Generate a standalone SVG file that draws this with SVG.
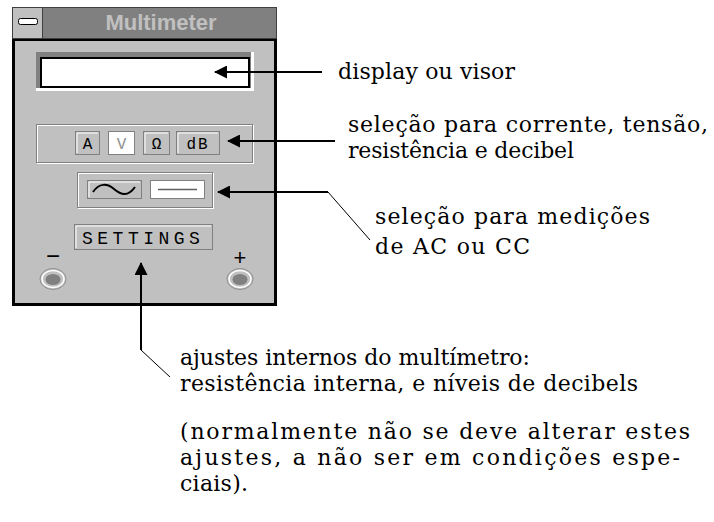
<svg xmlns="http://www.w3.org/2000/svg" width="714" height="522" viewBox="0 0 714 522">
<style>
.btn{fill:#c0c0c0;stroke:#808080;stroke-width:1}
.hl{fill:none;stroke:#fff;stroke-width:1}
.arrow{fill:none;stroke:#000;stroke-width:2;marker-end:url(#ah)}
.thin{fill:none;stroke:#000;stroke-width:1}
</style>
<defs>
<marker id="ah" markerUnits="userSpaceOnUse" markerWidth="13" markerHeight="13" refX="12" refY="6.5" orient="auto">
<path d="M0,0 L13,6.5 L0,13 z" fill="#000"/>
</marker>
</defs>
<rect width="714" height="522" fill="#fff"/>
<g id="window">
<rect x="13.5" y="39.5" width="262" height="265" fill="#c0c0c0" stroke="#000" stroke-width="3"/>
<rect x="12.5" y="7.5" width="264" height="31" fill="#808080" stroke="#404040"/>
<rect x="12.5" y="7.5" width="30" height="31" fill="#c0c0c0" stroke="#404040"/>
<rect x="18.5" y="18.5" width="19" height="6" rx="2" fill="#fff" stroke="#000"/>
<text x="161" y="30" style="font-family:'Liberation Sans',sans-serif;font-weight:bold;font-size:22px" fill="#c0c0c0" text-anchor="middle">Multimeter</text>
</g>
<g id="display">
<rect x="36" y="52" width="218" height="39" fill="#fff"/>
<rect x="36" y="52" width="215" height="36" fill="#808080"/>
<rect x="41" y="58" width="208" height="29" fill="#fff" stroke="#000" stroke-width="2"/>
</g>
<g id="mode-buttons">
<rect x="37.5" y="125.5" width="216" height="38" fill="none" stroke="#fff"/>
<rect x="36.5" y="124.5" width="216" height="38" fill="none" stroke="#808080"/>
<rect class="btn" x="75.5" y="131.5" width="24" height="23"/>
<path class="hl" d="M77,153 V133 H98"/>
<text x="87.5" y="149" style="font-family:'Liberation Mono',monospace;font-size:16px" text-anchor="middle">A</text>
<rect x="108.5" y="131.5" width="26" height="23" fill="#fff" stroke="#808080"/>
<text x="121.5" y="149" style="font-family:'Liberation Mono',monospace;font-size:16px" text-anchor="middle" fill="#909090">V</text>
<rect class="btn" x="143.5" y="131.5" width="26" height="23"/>
<path class="hl" d="M145,153 V133 H168"/>
<text x="156.5" y="149" style="font-family:'Liberation Mono',monospace;font-size:16px" text-anchor="middle">Ω</text>
<rect class="btn" x="176.5" y="131.5" width="43" height="23"/>
<path class="hl" d="M178,153 V133 H218"/>
<text x="198" y="149" style="font-family:'Liberation Mono',monospace;font-size:16px" text-anchor="middle" letter-spacing="2">dB</text>
</g>
<g id="acdc-buttons">
<rect x="78.5" y="173.5" width="135" height="35" fill="none" stroke="#fff"/>
<rect x="77.5" y="172.5" width="135" height="35" fill="none" stroke="#808080"/>
<rect class="btn" x="87.5" y="180.5" width="54" height="18"/>
<path class="hl" d="M89,197 V182 H140"/>
<path d="M93,192 C99,183 107,183 114,189 S128,197 135,187" fill="none" stroke="#000" stroke-width="2"/>
<rect x="150.5" y="180.5" width="54" height="18" fill="#fff" stroke="#808080"/>
<line x1="158" y1="189.5" x2="197" y2="189.5" stroke="#606060" stroke-width="1.5"/>
</g>
<g id="settings">
<rect class="btn" x="74.5" y="224.5" width="138" height="25"/>
<path class="hl" d="M76,248 V226 H211"/>
<text x="82" y="244" style="font-family:'Liberation Mono',monospace;font-size:18px" letter-spacing="4.5">SETTINGS</text>
</g>
<g id="terminals">
<text x="53" y="264" style="font-family:'Liberation Sans',sans-serif;font-size:24px" text-anchor="middle">−</text>
<text x="240" y="265" style="font-family:'Liberation Sans',sans-serif;font-size:22px" text-anchor="middle">+</text>
<ellipse cx="53" cy="279" rx="13" ry="10.5" fill="none" stroke="#909090"/>
<ellipse cx="53" cy="279" rx="11" ry="8.5" fill="none" stroke="#fff" stroke-width="1.5"/>
<ellipse cx="53" cy="279.5" rx="7.5" ry="5.5" fill="#808080"/>
<ellipse cx="240" cy="279" rx="13" ry="10.5" fill="none" stroke="#909090"/>
<ellipse cx="240" cy="279" rx="11" ry="8.5" fill="none" stroke="#fff" stroke-width="1.5"/>
<ellipse cx="240" cy="279.5" rx="7.5" ry="5.5" fill="#808080"/>
</g>
<g id="connectors">
<path class="arrow" d="M322,72 H215"/>
<path class="arrow" d="M335,141 H228"/>
<path class="arrow" d="M328,192 H218"/>
<path class="thin" d="M328,192 L370,240"/>
<path class="arrow" d="M141,350 V263"/>
<path class="thin" d="M141,350 L170,377"/>
</g>
<g id="labels">
<text x="338" y="79" style="font-family:'DejaVu Serif',serif;font-size:22px" textLength="177" lengthAdjust="spacing">display ou visor</text>
<text x="348" y="132" style="font-family:'DejaVu Serif',serif;font-size:22px" textLength="360" lengthAdjust="spacing">seleção para corrente, tensão,</text>
<text x="348" y="158" style="font-family:'DejaVu Serif',serif;font-size:22px" textLength="226" lengthAdjust="spacing">resistência e decibel</text>
<text x="375" y="224" style="font-family:'DejaVu Serif',serif;font-size:22px" textLength="275" lengthAdjust="spacing">seleção para medições</text>
<text x="375" y="254" style="font-family:'DejaVu Serif',serif;font-size:22px" textLength="155" lengthAdjust="spacing">de AC ou CC</text>
<text x="180" y="365" style="font-family:'DejaVu Serif',serif;font-size:22px" textLength="350" lengthAdjust="spacing">ajustes internos do multímetro:</text>
<text x="180" y="391" style="font-family:'DejaVu Serif',serif;font-size:22px" textLength="458" lengthAdjust="spacing">resistência interna, e níveis de decibels</text>
<text x="180" y="439" style="font-family:'DejaVu Serif',serif;font-size:22px" textLength="510" lengthAdjust="spacing">(normalmente não se deve alterar estes</text>
<text x="180" y="465" style="font-family:'DejaVu Serif',serif;font-size:22px" textLength="500" lengthAdjust="spacing">ajustes, a não ser em condições espe-</text>
<text x="180" y="491" style="font-family:'DejaVu Serif',serif;font-size:22px" textLength="68" lengthAdjust="spacing">ciais).</text>
</g>
</svg>
